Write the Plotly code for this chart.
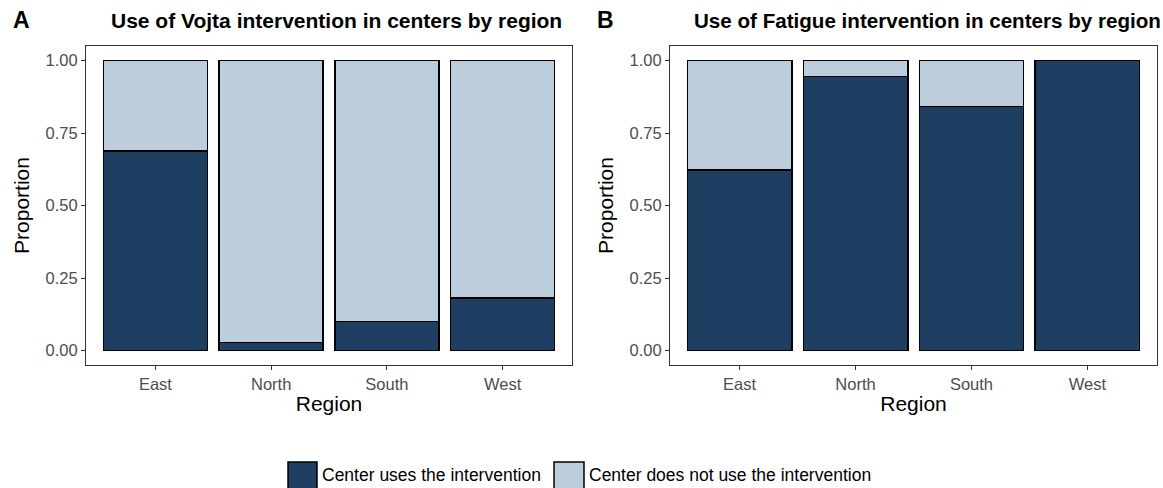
import plotly.graph_objects as go
from plotly.subplots import make_subplots

regions = ["East", "North", "South", "West"]
vojta_uses = [0.687, 0.027, 0.10, 0.182]
vojta_not = [1 - v for v in vojta_uses]
fatigue_uses = [0.622, 0.945, 0.842, 1.0]
fatigue_not = [1 - v for v in fatigue_uses]

series_names = ["Center uses the intervention", "Center does not use the intervention"]
dark = "#1F3F62"
light = "#BCCDDB"
FONT = "Liberation Sans, Arial"

W, H = 1163, 488
fig = make_subplots(rows=1, cols=2)

for col, (uses, nots) in enumerate([(vojta_uses, vojta_not), (fatigue_uses, fatigue_not)], start=1):
    fig.add_trace(go.Bar(x=regions, y=uses, name=series_names[0], marker=dict(color=dark, line=dict(color="black", width=1.6)),
                         showlegend=False), row=1, col=col)
    fig.add_trace(go.Bar(x=regions, y=nots, name=series_names[1], marker=dict(color=light, line=dict(color="black", width=1.6)),
                         showlegend=False), row=1, col=col)

y0 = 1 - 365 / H
y1 = 1 - 46 / H
axis_common = dict(showline=True, mirror=True, linecolor="#333333", linewidth=1, showgrid=False, zeroline=False,
                   ticks="outside", ticklen=4, tickcolor="#333333",
                   tickfont=dict(family=FONT, size=16.5, color="#4D4D4D"))
xtitle = dict(text="Region", font=dict(family=FONT, size=21, color="black"), standoff=4)
ytitle = dict(text="Proportion", font=dict(family=FONT, size=21, color="black"), standoff=10)
yticks = dict(range=[-0.05, 1.05], tickvals=[0, 0.25, 0.5, 0.75, 1.0],
              ticktext=["0.00", "0.25", "0.50", "0.75", "1.00"])
fig.update_layout(
    xaxis=dict(domain=[86 / W, 572 / W], range=[-0.6, 3.6], title=xtitle, **axis_common),
    xaxis2=dict(domain=[670 / W, 1157 / W], range=[-0.6, 3.6], title=xtitle, **axis_common),
    yaxis=dict(domain=[y0, y1], title=ytitle, **yticks, **axis_common),
    yaxis2=dict(domain=[y0, y1], title=ytitle, **yticks, **axis_common),
    barmode="stack", bargap=0.1,
    width=W, height=H, margin=dict(l=0, r=0, t=0, b=0),
    plot_bgcolor="white", paper_bgcolor="white",
    font=dict(family=FONT),
)

annotations = [
    dict(text="<b>A</b>", x=11 / W, y=1 - 20 / H, xanchor="left", yanchor="middle", font=dict(size=23, color="black")),
    dict(text="<b>B</b>", x=595 / W, y=1 - 20 / H, xanchor="left", yanchor="middle", font=dict(size=23, color="black")),
    dict(text="<b>Use of Vojta intervention in centers by region</b>", x=109 / W, y=1 - 20 / H, xanchor="left",
         yanchor="middle", font=dict(size=21, color="black")),
    dict(text="<b>Use of Fatigue intervention in centers by region</b>", x=692 / W, y=1 - 20 / H, xanchor="left",
         yanchor="middle", font=dict(size=20.6, color="black")),
    dict(text=series_names[0], x=320 / W, y=1 - 475 / H, xanchor="left", yanchor="middle", font=dict(size=17.5, color="black")),
    dict(text=series_names[1], x=587 / W, y=1 - 475 / H, xanchor="left", yanchor="middle", font=dict(size=17.5, color="black")),
]
for a in annotations:
    a.update(xref="paper", yref="paper", showarrow=False)
fig.update_layout(annotations=annotations)

shapes = [
    dict(type="rect", x0=288 / W, x1=317 / W, y0=1 - 490 / H, y1=1 - 462 / H, fillcolor=dark, line=dict(color="black", width=1.5)),
    dict(type="rect", x0=554 / W, x1=584 / W, y0=1 - 490 / H, y1=1 - 462 / H, fillcolor=light, line=dict(color="black", width=1.5)),
]
for s in shapes:
    s.update(xref="paper", yref="paper")
fig.update_layout(shapes=shapes)

fig.write_html("out.html", config={"displayModeBar": False},
               post_script="document.body.style.margin='0';document.body.style.overflow='hidden';")
